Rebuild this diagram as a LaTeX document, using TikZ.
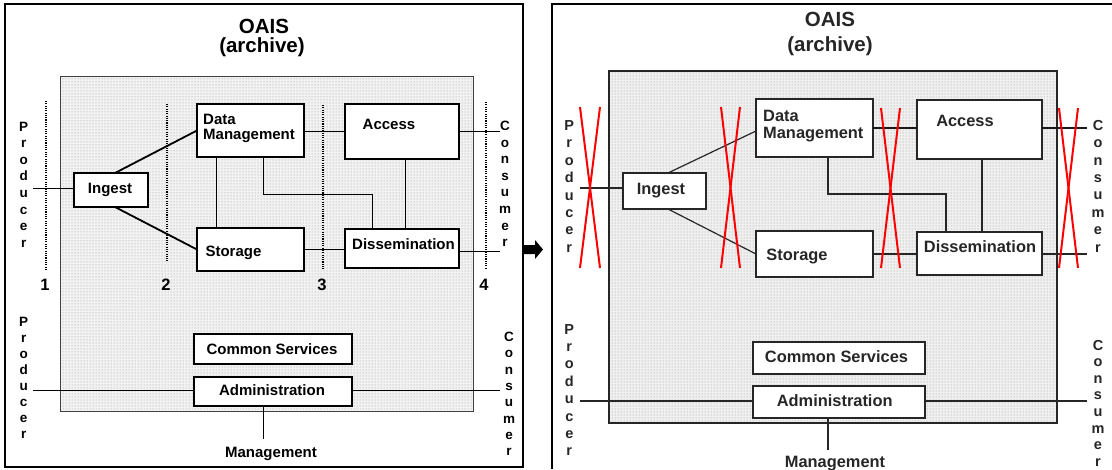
\documentclass[tikz,border=0pt]{standalone}
\usepackage{fontspec}
\setmainfont{Liberation Sans}
\usetikzlibrary{patterns}
\begin{document}
\begin{tikzpicture}[x=1pt,y=-1pt,
  box/.style={draw=black, line width=1.2pt, fill=white, inner sep=0pt, outer sep=0pt},
  boxR/.style={draw=black!85, line width=1.7pt, fill=white, inner sep=0pt, outer sep=0pt},
  txt/.style={font=\bfseries\fontsize{15}{15}\selectfont, inner sep=0pt, anchor=base},
  txtR/.style={font=\bfseries\fontsize{16.4}{17}\selectfont, inner sep=0pt, anchor=base, text=black!85},
  vlet/.style={font=\bfseries\fontsize{13.5}{13.5}\selectfont, inner sep=0pt, anchor=base},
  vletR/.style={font=\bfseries\fontsize{14.5}{14.5}\selectfont, inner sep=0pt, anchor=base, text=black!85},
  link/.style={line width=0.8pt},
  flow/.style={line width=1.8pt},
  linkR/.style={line width=1.2pt, draw=black!85},
  flowR/.style={line width=2pt, draw=black!90},
  divider/.style={line width=2.6pt, dash pattern=on 1.1pt off 1.2pt},
  cross/.style={draw=red, line width=2pt},
  shade/.style={pattern=dots, pattern color=gray!85},
]
\useasboundingbox (0,0) rectangle (1112,469);

% ---------------- left panel: OAIS with interface lines ----------------
\draw[line width=1.2pt] (5,4) rectangle (523,467);
\node[font=\bfseries\fontsize{20.5}{20.5}\selectfont, anchor=base, inner sep=0pt] (titleL) at (264,33) {OAIS};
\node[font=\bfseries\fontsize{20.5}{20.5}\selectfont, anchor=base, inner sep=0pt] (subL) at (262,52) {(archive)};

\fill[gray!10] (60,76) rectangle (473,411);
\fill[shade] (60,76) rectangle (473,411);
\draw[black!75, line width=0.8pt] (60,76) rectangle (473,411);

% interface lines 1--4
\coordinate (d1t) at (46,101); \coordinate (d1b) at (46,271);
\coordinate (d2t) at (167,104); \coordinate (d2b) at (167,261);
\coordinate (d3t) at (323,105); \coordinate (d3b) at (323,269);
\coordinate (d4t) at (486,102); \coordinate (d4b) at (486,268);
\draw[divider] (d1t) -- (d1b);
\draw[divider] (d2t) -- (d2b);
\draw[divider] (d3t) -- (d3b);
\draw[divider] (d4t) -- (d4b);
\node[txt, font=\bfseries\fontsize{16.5}{16.5}\selectfont] (n1) at (45,290) {1};
\node[txt, font=\bfseries\fontsize{16.5}{16.5}\selectfont] (n2) at (166,290) {2};
\node[txt, font=\bfseries\fontsize{16.5}{16.5}\selectfont] (n3) at (322,290) {3};
\node[txt, font=\bfseries\fontsize{16.5}{16.5}\selectfont] (n4) at (484,290) {4};

% functional entities
\node[box, minimum width=107, minimum height=53] (dm)  at (250.5,130.5) {};
\node[box, minimum width=114, minimum height=55] (acc) at (402,131.5) {};
\node[box, minimum width=74,  minimum height=34] (ing) at (111,190) {};
\node[box, minimum width=107, minimum height=43] (sto) at (250.5,249.5) {};
\node[box, minimum width=114, minimum height=39] (dis) at (402,248.5) {};
\node[box, minimum width=158, minimum height=30] (cs)  at (273,349) {};
\node[box, minimum width=158, minimum height=29] (adm) at (273,391.5) {};

\node[txt, anchor=base west] (dmt1) at (203,124) {Data};
\node[txt, anchor=base west] (dmt2) at (203,139) {Management};
\node[txt] (acct) at (389,129) {Access};
\node[txt] (ingt) at (110,193) {Ingest};
\node[txt] (stot) at (233.5,256.5) {Storage};
\node[txt] (dist) at (403.5,249) {Dissemination};
\node[txt] (cst)  at (272,354) {Common Services};
\node[txt] (admt) at (272,395.5) {Administration};
\node[txt] (mgmtL) at (271,457.5) {Management};

% connections
\coordinate (pIngL) at (33,188);
\coordinate (cAccL) at (500,131.5);
\coordinate (cDisL) at (500,251);
\coordinate (pAdmL) at (33,390);
\coordinate (cAdmL) at (500,390);
\coordinate (mAdmL) at (263,439);
\draw[link] (pIngL) -- (pIngL -| ing.west);
\draw[flow] ([xshift=4pt]ing.north) -- (dm.west);
\draw[flow] ([xshift=4pt]ing.south) -- (sto.west);
\draw[link] (acc.west -| dm.east) -- (acc.west);
\draw[link] (acc.east) -- (cAccL);
\draw[link] ([xshift=-34.5pt]dm.south) -- ([xshift=-34.5pt]sto.north);
\draw[link] ([xshift=12.5pt]dm.south) -- ++(0,37.5) -| ([xshift=-30pt]dis.north);
\draw[link] ([xshift=3.5pt]acc.south) -- ([xshift=3.5pt]dis.north);
\draw[link] (sto.east) -- (sto.east -| dis.west);
\draw[link] (cDisL -| dis.east) -- (cDisL);
\draw[link] (pAdmL) -- (pAdmL -| adm.west);
\draw[link] (cAdmL -| adm.east) -- (cAdmL);
\draw[link] (mAdmL |- adm.south) -- (mAdmL);

% external entities
\foreach \ch [count=\i from 0] in {P,r,o,d,u,c,e,r}
  \node[vlet] (pa\i) at (23.7,131+16.6*\i) {\ch};
\foreach \ch [count=\i from 0] in {P,r,o,d,u,c,e,r}
  \node[vlet] (pb\i) at (23.7,326.5+15.95*\i) {\ch};
\foreach \ch [count=\i from 0] in {C,o,n,s,u,m,e,r}
  \node[vlet] (ca\i) at (505,130.5+16.6*\i) {\ch};
\foreach \ch [count=\i from 0] in {C,o,n,s,u,m,e,r}
  \node[vlet] (cb\i) at (509,341.7+16.26*\i) {\ch};

% transition arrow
\fill (524,245) -- (535,245) -- (535,240) -- (543,249.5) -- (535,259) -- (535,254) -- (524,254) -- cycle;

% ---------------- right panel: interface lines crossed out ----------------
\draw[line width=1.2pt] (552,469) -- (552,4) -- (1112,4);
\node[font=\bfseries\fontsize{20.5}{20.5}\selectfont, anchor=base, inner sep=0pt, text=black!85] (titleR) at (830,26) {OAIS};
\node[font=\bfseries\fontsize{20.5}{20.5}\selectfont, anchor=base, inner sep=0pt, text=black!85] (subR) at (830,51.7) {(archive)};

\fill[gray!12] (609,71) rectangle (1057,423);
\fill[shade] (609,71) rectangle (1057,423);
\draw[black!85, line width=1.6pt] (609,71) rectangle (1057,423);

\node[boxR, minimum width=117, minimum height=58] (dmR)  at (814.5,128) {};
\node[boxR, minimum width=125, minimum height=59] (accR) at (979.5,129.5) {};
\node[boxR, minimum width=83,  minimum height=36] (ingR) at (664.5,191) {};
\node[boxR, minimum width=117, minimum height=46] (stoR) at (814.5,254) {};
\node[boxR, minimum width=125, minimum height=43] (disR) at (979.5,253.5) {};
\node[boxR, minimum width=172, minimum height=32] (csR)  at (839,358) {};
\node[boxR, minimum width=172, minimum height=32] (admR) at (839,402) {};

\node[txtR, anchor=base west] (dmRt1) at (763,121.7) {Data};
\node[txtR, anchor=base west] (dmRt2) at (763,138.5) {Management};
\node[txtR] (accRt) at (965,126.7) {Access};
\node[txtR] (ingRt) at (661,194) {Ingest};
\node[txtR] (stoRt) at (797,260.5) {Storage};
\node[txtR] (disRt) at (980,252.7) {Dissemination};
\node[txtR] (csRt)  at (836.5,362.7) {Common Services};
\node[txtR] (admRt) at (834.7,406.7) {Administration};
\node[txtR] (mgmtR) at (835,467) {Management};

\coordinate (pIngR) at (580,188);
\coordinate (cAccR) at (1087,128);
\coordinate (cDisR) at (1087,254);
\coordinate (pAdmR) at (580,401);
\coordinate (cAdmR) at (1087,401);
\coordinate (mAdmR) at (828,450);
\draw[linkR] (pIngR) -- (pIngR -| ingR.west);
\draw[linkR] ([xshift=3.5pt]ingR.north) -- ([yshift=-3pt]dmR.west);
\draw[linkR] ([xshift=3.5pt]ingR.south) -- (stoR.west);
\draw[flowR] (dmR.east) -- (dmR.east -| accR.west);
\draw[flowR] (cAccR -| accR.east) -- (cAccR);
\draw[linkR] ([xshift=13.5pt]dmR.south) -- ++(0,37) -| ([xshift=-33.5pt]disR.north);
\draw[linkR] ([xshift=2.5pt]accR.south) -- ([xshift=2.5pt]disR.north);
\draw[linkR] (stoR.east) -- (stoR.east -| disR.west);
\draw[linkR] (cDisR -| disR.east) -- (cDisR);
\draw[linkR] (pAdmR) -- (pAdmR -| admR.west);
\draw[linkR] (cAdmR -| admR.east) -- (cAdmR);
\draw[linkR] (mAdmR |- admR.south) -- (mAdmR);

\foreach \ch [count=\i from 0] in {P,r,o,d,u,c,e,r}
  \node[vletR] (pc\i) at (569.3,130.5+17.4*\i) {\ch};
\foreach \ch [count=\i from 0] in {P,r,o,d,u,c,e,r}
  \node[vletR] (pd\i) at (569.3,334+17.4*\i) {\ch};
\foreach \ch [count=\i from 0] in {C,o,n,s,u,m,e,r}
  \node[vletR] (cc\i) at (1098,130.3+17.4*\i) {\ch};
\foreach \ch [count=\i from 0] in {C,o,n,s,u,m,e,r}
  \node[vletR] (cd\i) at (1098,350+16.6*\i) {\ch};

% removed interfaces
\draw[cross] (580,107) -- (600,268);
\draw[cross] (600,107) -- (580,268);
\draw[cross] (721,107) -- (740,268);
\draw[cross] (740,107) -- (721,268);
\draw[cross] (881,108) -- (900,268);
\draw[cross] (900,108) -- (881,268);
\draw[cross] (1059,108) -- (1078,268);
\draw[cross] (1078,108) -- (1059,268);
\end{tikzpicture}
\end{document}
